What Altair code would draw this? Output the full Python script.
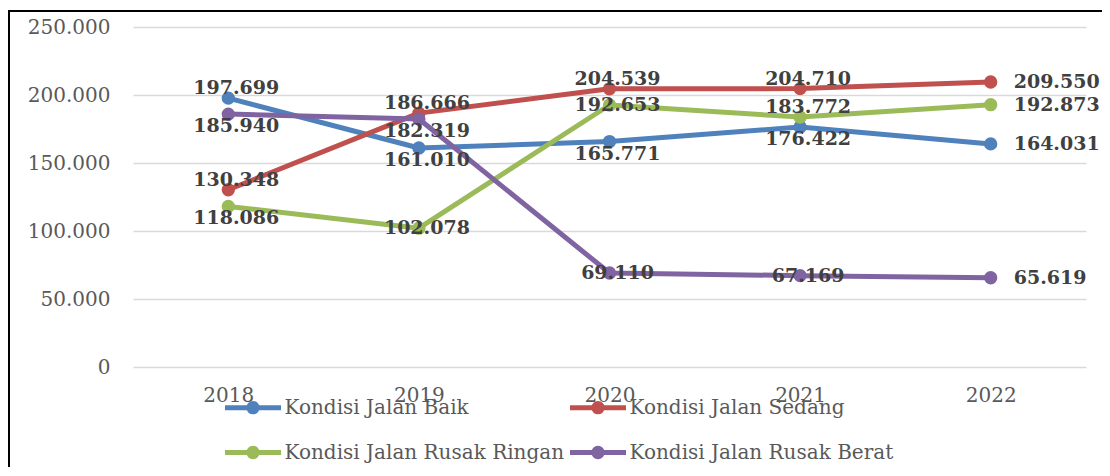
import altair as alt
import pandas as pd

years = ["2018", "2019", "2020", "2021", "2022"]
series = ["Kondisi Jalan Baik", "Kondisi Jalan Sedang",
          "Kondisi Jalan Rusak Ringan", "Kondisi Jalan Rusak Berat"]
colors = ["#4F81BD", "#C0504D", "#9BBB59", "#8064A2"]

baik = [197699, 161010, 165771, 176422, 164031]
sedang = [130348, 186666, 204539, 204710, 209550]
ringan = [118086, 102078, 192653, 183772, 192873]
berat = [185940, 182319, 69110, 67169, 65619]

# where each data label sits relative to its marker
pos_baik = ["above", "below", "below", "below", "right"]
pos_sedang = ["above", "above", "above", "above", "right"]
pos_ringan = ["below", "center", "center", "above", "right"]
pos_berat = ["below", "below", "center", "center", "right"]

rows = []
for s, vals, pos in zip(series, [baik, sedang, ringan, berat],
                        [pos_baik, pos_sedang, pos_ringan, pos_berat]):
    for y, v, p in zip(years, vals, pos):
        rows.append({"year": y, "series": s, "value": v, "pos": p})
df = pd.DataFrame(rows)

FONT = "DejaVu Serif"

x_enc = alt.X("year:O", title=None,
              axis=alt.Axis(labelAngle=0, domain=False, ticks=False, tickSize=0,
                            labelPadding=18, labelFontSize=20, labelFont=FONT,
                            labelColor="#595959", grid=False))
y_enc = alt.Y("value:Q", title=None,
              scale=alt.Scale(domain=[0, 250000], nice=False),
              axis=alt.Axis(values=[0, 50000, 100000, 150000, 200000, 250000],
                            labelExpr="replace(format(datum.value, ','), ',', '.')",
                            domain=False, ticks=False, tickSize=0, labelPadding=23,
                            labelFontSize=20, labelFont=FONT, labelColor="#595959",
                            grid=True, gridColor="#D9D9D9", gridWidth=1.5))

sym = ("M-2,0L2,0"
       "M0.3,0A0.3,0.3,0,1,1,-0.3,0A0.3,0.3,0,1,1,0.3,0"
       "M0.08,0A0.08,0.08,0,1,1,-0.08,0A0.08,0.08,0,1,1,0.08,0")

color_enc = alt.Color("series:N",
                      scale=alt.Scale(domain=series, range=colors),
                      legend=alt.Legend(title=None, orient="none", legendX=92, legendY=364,
                                        direction="horizontal",
                                        columns=2, columnPadding=-5, rowPadding=14,
                                        padding=0, symbolType=sym, symbolSize=784,
                                        symbolStrokeWidth=5, symbolOffset=11.5,
                                        labelOffset=15, labelFontSize=20, labelFont=FONT,
                                        labelColor="#595959", labelLimit=400))

base = alt.Chart(df).encode(x=x_enc, y=y_enc)

lines = base.mark_line(strokeWidth=5, strokeCap="round", strokeJoin="round",
                       point=alt.OverlayMarkDef(size=177, filled=True, opacity=1)
                       ).encode(color=color_enc, order=alt.Order("year:O"))

label_calc = "replace(format(datum.value, ','), ',', '.')"
txt_style = dict(font=FONT, fontSize=19, fontWeight="bold", color="#404040",
                 baseline="middle")

def labels(p, **kw):
    return (base.transform_filter(alt.datum.pos == p)
            .transform_calculate(label=label_calc)
            .mark_text(**txt_style, **kw)
            .encode(text="label:N"))

t_above = labels("above", align="center", dx=8, dy=-10)
t_below = labels("below", align="center", dx=8, dy=12)
t_center = labels("center", align="center", dx=8, dy=0)
t_right = labels("right", align="left", dx=23, dy=0)

frame = alt.Chart(pd.DataFrame({"a": [0]})).mark_rect(
    filled=False, stroke="black", strokeWidth=2
).encode(x=alt.value(-124), x2=alt.value(3000), y=alt.value(-16), y2=alt.value(3000))

chart = alt.layer(lines, t_above, t_below, t_center, t_right, frame).properties(
    width=953, height=340,
    autosize=alt.AutoSizeParams(type="none"),
    padding={"left": 125, "top": 19, "right": 16, "bottom": 100},
).configure_view(stroke=None)

chart.save("out.html", embed_options={"renderer": "svg", "actions": False})
